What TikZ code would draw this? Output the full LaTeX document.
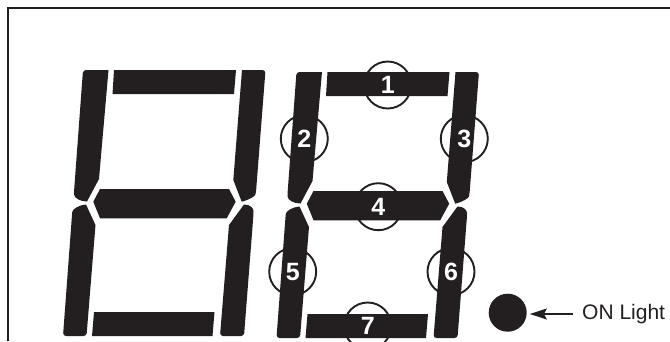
\documentclass[tikz,border=0pt]{standalone}
\usepackage{fontspec}
\setmainfont{Liberation Sans}
\usetikzlibrary{arrows.meta}
\definecolor{segblack}{HTML}{231F20}
\tikzset{
  seg/.style={fill=segblack,draw=none},
  ring/.style={circle,draw=segblack,line width=1.9pt,minimum size=47pt,inner sep=0pt},
  num/.style={text=white,font=\fontsize{25}{25}\selectfont\bfseries,inner sep=0pt}
}
\begin{document}
\begin{tikzpicture}[x=1pt,y=-1pt]
\useasboundingbox (0,0) rectangle (670,341);
\begin{scope}
\clip (0,0) rectangle (670,341);
% frame
\draw[line width=2.6pt,color=segblack] (8,341) -- (8,8) -- (670,8);
% rings go under the segments
\foreach \n/\x/\y in {1/387.7/85,2/304.3/138.7,3/464.3/138.7,4/378.3/206.7,5/292.7/271.7,6/451/271.7,7/367.7/326}
  \node[ring] (r\n) at (\x,\y) {};
% both digits
\foreach \dx/\dy in {0/0,213.5/2}{
\begin{scope}[shift={(\dx,\dy)}]
\fill[seg] (114,70) -- (236,70) -- (234,94) -- (112.5,94) -- cycle;
\fill[seg,rounded corners=3pt] (108.5,70) -- (83,70) -- (74,192) [sharp corners] .. controls (74.5,198) and (80,201.5) .. (87,201.5) -- (99,179) -- cycle;
\fill[seg,rounded corners=3pt] (242,70) -- (265.5,70) -- (256,192) [sharp corners] .. controls (255,196) and (249,200) .. (241.7,201.7) -- (233.3,180) -- cycle;
\fill[seg] (100,189) -- (229,189) -- (235.7,201.7) -- (226.7,218.3) -- (100,218.3) -- (93.3,201.7) -- cycle;
\fill[seg,rounded corners=3pt] (95.5,225) -- (86.5,336) -- (63,336) -- (72,215) [sharp corners] .. controls (72.5,209) and (79,205) .. (86,204.5) -- cycle;
\fill[seg,rounded corners=3pt] (229,225) -- (220,336) -- (244,336) -- (253.5,214) [sharp corners] .. controls (253.5,208) and (250,204.5) .. (244,204.5) -- cycle;
\fill[seg] (94,312) -- (214.5,312) -- (212.5,336) -- (92,336) -- cycle;
\end{scope}
}
% numbers on top
\foreach \n in {1,...,7}
  \node[num] at (r\n) {\n};
\end{scope}
\node[circle,fill=segblack,minimum size=38pt,inner sep=0pt] (light) at (507.7,312.7) {};
\node[anchor=west,inner sep=0pt,text=segblack,font=\fontsize{21}{21}\selectfont] (onlabel) at (582,314) {ON Light};
\draw[-{Stealth[length=17pt,width=11pt,inset=3pt]},line width=1.1pt,color=segblack,shorten >=3pt,shorten <=9pt] (onlabel.west) -- (light.east |- onlabel.west);
\end{tikzpicture}
\end{document}
